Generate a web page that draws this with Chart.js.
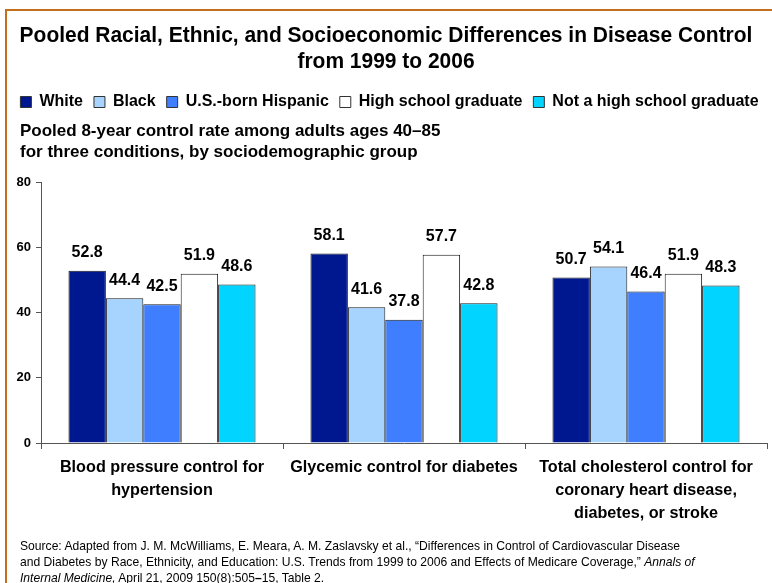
<!DOCTYPE html>
<html>
<head>
<meta charset="utf-8">
<script src="https://cdn.jsdelivr.net/npm/chart.js@4/dist/chart.umd.min.js"></script>
<style>
  html, body { margin: 0; padding: 0; background: #fff; }
  #wrap { position: relative; width: 772px; height: 583px; overflow: hidden; background: #fff; }
  #border { position: absolute; left: 5px; top: 9px; right: -10px; bottom: -10px; border-left: 2px solid #C46F1E; border-top: 2px solid #C46F1E; }
  #title { position: absolute; left: 0; top: 22px; width: 772px; text-align: center; font: bold 22px "Liberation Sans", Arial, sans-serif; line-height: 26px; color: #000; transform: scaleX(0.953); transform-origin: 386px 0; }
  #subtitle { position: absolute; left: 20px; top: 120px; font: bold 17px "Liberation Sans", Arial, sans-serif; line-height: 21px; color: #000; }
  #source { position: absolute; left: 20px; top: 538px; font: 13.5px "Liberation Sans", Arial, sans-serif; line-height: 16px; color: #000; white-space: nowrap; transform: scaleX(0.897); transform-origin: 0 0; }
  canvas { position: absolute; left: 0; top: 0; }
</style>
</head>
<body>
<div id="wrap">
  <div id="border"></div>
  <canvas id="c" width="772" height="583"></canvas>
  <div id="title">Pooled Racial, Ethnic, and Socioeconomic Differences in Disease Control<br>from 1999 to 2006</div>
  <div id="subtitle">Pooled 8-year control rate among adults ages 40–85<br>for three conditions, by sociodemographic group</div>
  <div id="source">Source: Adapted from J. M. McWilliams, E. Meara, A. M. Zaslavsky et al., “Differences in Control of Cardiovascular Disease<br>and Diabetes by Race, Ethnicity, and Education: U.S. Trends from 1999 to 2006 and Effects of Medicare Coverage,” <i>Annals of<br>Internal Medicine,</i> April 21, 2009 150(8):505<b>–</b>15, Table 2.</div>
</div>
<script>
const categories = [
  ["Blood pressure control for", "hypertension"],
  ["Glycemic control for diabetes"],
  ["Total cholesterol control for", "coronary heart disease,", "diabetes, or stroke"]
];
const seriesNames = ["White", "Black", "U.S.-born Hispanic", "High school graduate", "Not a high school graduate"];
const white = [52.8, 58.1, 50.7];
const black = [44.4, 41.6, 54.1];
const hispanic = [42.5, 37.8, 46.4];
const hsGrad = [51.9, 57.7, 51.9];
const notHsGrad = [48.6, 42.8, 48.3];
const yTicks = [0, 20, 40, 60, 80];

const colors = ["#00188F", "#A6D4FF", "#3F7FFF", "#FFFFFF", "#00D4FF"];
const values = [white, black, hispanic, hsGrad, notHsGrad];

const datasets = seriesNames.map((name, i) => ({
  label: name,
  data: values[i],
  backgroundColor: colors[i],
  borderColor: "#1a1a1a",
  borderWidth: 1,
  borderSkipped: "bottom",
  categoryPercentage: 0.773,
  barPercentage: 1.0
}));

const valueLabels = {
  id: "valueLabels",
  afterDatasetsDraw(chart) {
    const ctx = chart.ctx;
    ctx.save();
    ctx.font = "bold 16px 'Liberation Sans', Arial, sans-serif";
    ctx.fillStyle = "#000";
    ctx.textAlign = "center";
    ctx.textBaseline = "middle";
    chart.data.datasets.forEach((ds, di) => {
      const meta = chart.getDatasetMeta(di);
      meta.data.forEach((bar, i) => {
        ctx.fillText(ds.data[i].toFixed(1), bar.x, bar.y - 18);
      });
    });
    ctx.restore();
  }
};

const TOP_PAD = 83;
const legendSpacer = {
  id: "legendSpacer",
  beforeInit(chart) {
    const origFit = chart.legend.fit;
    chart.legend.fit = function () {
      origFit.bind(chart.legend)();
      this.height = 182 - TOP_PAD;
    };
  },
  afterLayout(chart) {
    chart.legend.left += 6;
    chart.legend.right += 6;
  }
};

new Chart(document.getElementById("c"), {
  type: "bar",
  data: { labels: categories, datasets },
  plugins: [valueLabels, legendSpacer],
  options: {
    responsive: false,
    animation: false,
    layout: { padding: { top: TOP_PAD, right: 5, left: 0, bottom: 0 } },
    plugins: {
      tooltip: { enabled: false },
      title: { display: false },
      legend: {
        display: true,
        position: "top",
        align: "center",
        labels: {
          boxWidth: 11,
          boxHeight: 11,
          padding: 11,
          color: "#000",
          font: { family: "'Liberation Sans', Arial, sans-serif", size: 16, weight: "bold" },
          generateLabels(chart) {
            return chart.data.datasets.map((ds, i) => ({
              text: ds.label,
              fillStyle: ds.backgroundColor,
              strokeStyle: "#333",
              lineWidth: 1,
              hidden: false,
              datasetIndex: i,
              fontColor: "#000"
            }));
          }
        }
      }
    },
    scales: {
      x: {
        offset: true,
        grid: { display: true, drawOnChartArea: false, drawTicks: true, tickLength: 6, offset: true, color: "#555" },
        border: { display: true, color: "#555", width: 1 },
        ticks: {
          color: "#000",
          maxRotation: 0,
          autoSkip: false,
          padding: 7,
          font: { family: "'Liberation Sans', Arial, sans-serif", size: 16.2, weight: "bold", lineHeight: 1.42 }
        },
        afterFit(scale) { scale.height = 140; }
      },
      y: {
        min: 0,
        max: 80,
        afterBuildTicks(scale) { scale.ticks = yTicks.map(v => ({ value: v })); },
        grid: { display: true, drawOnChartArea: false, drawTicks: true, tickLength: 5, color: "#555" },
        border: { display: true, color: "#555", width: 1 },
        ticks: {
          color: "#000",
          padding: 5,
          font: { family: "'Liberation Sans', Arial, sans-serif", size: 13, weight: "bold" }
        },
        afterFit(scale) { scale.width = 41; }
      }
    }
  }
});
</script>
</body>
</html>
